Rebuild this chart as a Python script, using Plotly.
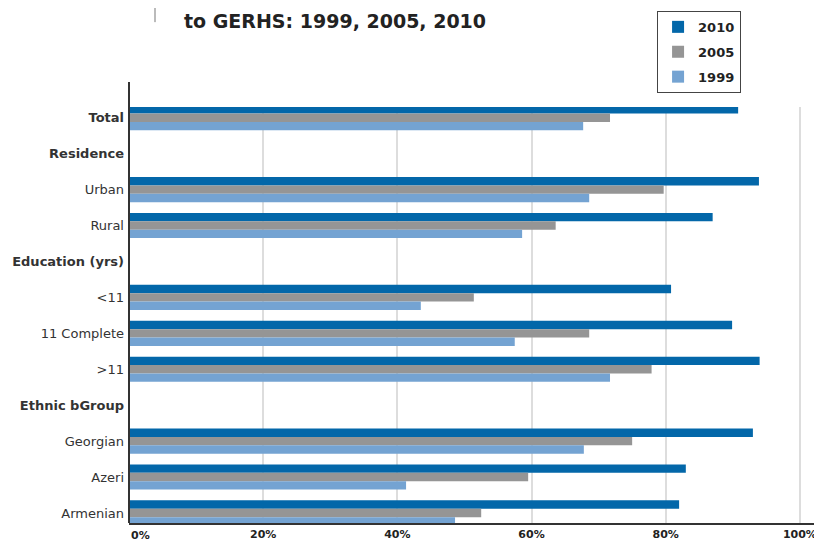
import plotly.graph_objects as go

categories = ["Total", "Residence", "Urban", "Rural", "Education (yrs)", "<11",
              "11 Complete", ">11", "Ethnic bGroup", "Georgian", "Azeri", "Armenian"]
bold_rows = ["Total", "Residence", "Education (yrs)", "Ethnic bGroup"]

years = ["2010", "2005", "1999"]
colors = ["#0367a9", "#959595", "#74a3d2"]
v2010 = [90.8, None, 93.9, 87.0, None, 80.8, 89.9, 94.0, None, 93.0, 83.0, 82.0]
v2005 = [71.7, None, 79.7, 63.6, None, 51.4, 68.6, 77.9, None, 75.0, 59.5, 52.5]
v1999 = [67.7, None, 68.6, 58.6, None, 43.5, 57.5, 71.7, None, 67.8, 41.3, 48.6]

x_ticks = [0, 20, 40, 60, 80, 100]
x_labels = ["", "20%", "40%", "60%", "80%", "100%"]

fig = go.Figure()
for name, vals, col in zip(years, [v2010, v2005, v1999], colors):
    fig.add_trace(go.Bar(
        y=categories, x=vals, name="<b>%s</b>" % name, orientation="h",
        marker=dict(color=col, line=dict(width=0)),
        legendgroup=name,
    ))

ticktext = []
for c in categories:
    t = c.replace("<", "&lt;").replace(">", "&gt;")
    ticktext.append("<b>%s</b>" % t if c in bold_rows else t)

# page body has an 8px margin, so the figure is drawn 8px smaller
fig.update_layout(
    width=814, height=534,
    margin=dict(l=121, r=0, t=99, b=19, autoexpand=False),
    paper_bgcolor="white", plot_bgcolor="white",
    barmode="group", bargap=0.3, bargroupgap=0,
    font=dict(family="DejaVu Sans", color="#333333", size=13),
    showlegend=True,
    legend=dict(
        x=0.762, y=1.231, xanchor="left", yanchor="top",
        bordercolor="#444444", borderwidth=1, bgcolor="white",
        font=dict(size=13, color="#222222", family="DejaVu Sans"),
        traceorder="grouped", tracegroupgap=5,
        itemwidth=30,
    ),
    xaxis=dict(
        range=[0, 103.3], tickvals=x_ticks, ticktext=x_labels,
        showgrid=True, gridcolor="#dddddd", gridwidth=2,
        zeroline=False, showline=True, linecolor="#333333", linewidth=2,
        tickfont=dict(size=11, color="#222222", family="DejaVu Sans", weight="bold"),
        ticks="", automargin=False,
    ),
    yaxis=dict(
        type="category", categoryorder="array", categoryarray=categories,
        tickvals=categories, ticktext=ticktext,
        range=[11.28, -0.3],
        showgrid=False, zeroline=False, showline=False,
        tickfont=dict(size=13, color="#333333"),
        ticks="", ticklabelstandoff=4, automargin=False,
    ),
)

# left axis line extends above the plot area
fig.add_shape(type="line", xref="paper", yref="paper", x0=0, x1=0, y0=0, y1=1.06,
              line=dict(color="#333333", width=2))
# thin separator near title
fig.add_shape(type="line", xref="paper", yref="paper", x0=0.0375, x1=0.0375, y0=1.204, y1=1.3,
              line=dict(color="#bbbbbb", width=2))

fig.add_annotation(text="<b>0%</b>", x=0, y=0, xref="x", yref="paper", xanchor="left",
                   yanchor="top", yshift=-4, showarrow=False,
                   font=dict(size=11, color="#222222", family="DejaVu Sans"))
fig.add_annotation(text="<b>to GERHS: 1999, 2005, 2010</b>", x=0.076, y=1.238,
                   xref="paper", yref="paper", xanchor="left", yanchor="top",
                   showarrow=False, font=dict(size=19, color="#222222", family="DejaVu Sans"))

fig.write_html("out.html")
